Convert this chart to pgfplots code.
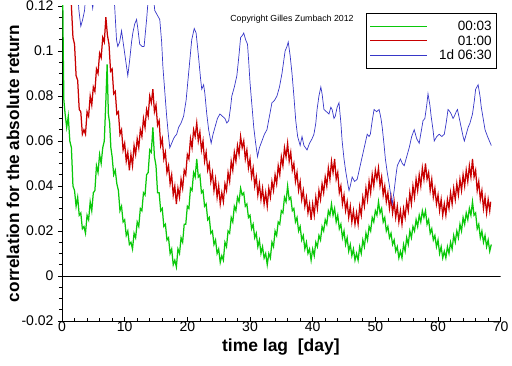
\documentclass[border=0pt]{standalone}
\usepackage{pgfplots}
\pgfplotsset{compat=1.18}
\usepackage{fontspec}
\setmainfont{Liberation Sans}
\definecolor{cgreen}{RGB}{10,200,10}
\definecolor{cred}{RGB}{200,0,0}
\definecolor{cblue}{RGB}{55,55,200}
\begin{document}
\begin{tikzpicture}
\useasboundingbox (-62pt,-45pt) rectangle (450pt,321pt);
\begin{axis}[
  at={(0pt,0pt)}, anchor=south west,
  scale only axis, width=438.7pt, height=315pt,
  xmin=0, xmax=70, ymin=-0.02, ymax=0.12,
  enlargelimits=false,
  axis x line*=bottom, axis y line*=left,
  axis line style={black, line width=0.9pt},
  xtick={0,10,20,30,40,50,60,70},
  xticklabels={0,10,20,30,40,50,60,70},
  ytick={-0.02,0,0.02,0.04,0.06,0.08,0.1,0.12},
  yticklabels={-0.02,0,0.02,0.04,0.06,0.08,0.1,0.12},
  minor x tick num=4, minor y tick num=3,
  x tick style={black, line width=0.7pt}, y tick style={black, line width=0.7pt},
  xtick align=inside, ytick align=outside,
  major tick length=4pt, minor tick length=3pt,
  tick label style={font=\fontsize{14}{16}\selectfont},
  xticklabel style={yshift=0pt, inner ysep=1pt},
  yticklabel style={xshift=-1pt},
  xlabel={time lag\ \ [day]}, ylabel={correlation for the absolute return},
  xlabel style={font=\fontsize{17.5}{20}\selectfont\bfseries, at={(axis description cs:0.499,-0.0835)}, anchor=center, inner sep=0pt},
  ylabel style={font=\fontsize{17.2}{20}\selectfont\bfseries, at={(axis description cs:-0.1117,0.5)}, anchor=center, inner sep=0pt},
  legend image code/.code={\draw[#1] (0pt,0pt) -- (57pt,0pt);},
  legend style={at={(rel axis cs:0.9916,0.978)}, anchor=north east,
    font=\fontsize{13.5}{14}\selectfont, draw=black, line width=0.9pt,
    inner xsep=3pt, inner ysep=7pt, row sep=2.5pt, cells={anchor=east},
    nodes={inner xsep=2pt, inner ysep=1pt, text height=9.5pt, text depth=0.5pt}},
  clip=true,
]
\addplot[draw=cgreen, line width=1.25pt] coordinates {
(0,0.16)(0.1,0.13)(0.2,0.10)(0.3,0.078)(0.5,0.072)(0.75,0.066)(1,0.071)(1.25,0.060)(1.5,0.057)(1.75,0.040)(2,0.038)(2.25,0.031)(2.5,0.035)(2.75,0.027)(3,0.028)(3.25,0.021)(3.5,0.022)(3.75,0.019)(4,0.027)(4.25,0.025)(4.5,0.033)(4.75,0.029)(5,0.037)(5.25,0.038)(5.5,0.049)(5.75,0.046)(6,0.054)(6.25,0.050)(6.5,0.057)(6.75,0.060)(7,0.078)(7.2,0.094)(7.4,0.072)(7.6,0.068)(7.8,0.057)(8,0.053)(8.25,0.045)(8.5,0.047)(8.75,0.041)(9,0.038)(9.25,0.029)(9.5,0.031)(9.75,0.024)(10,0.025)(10.25,0.018)(10.5,0.020)(10.75,0.014)(11,0.015)(11.25,0.012)(11.5,0.019)(11.75,0.017)(12,0.024)(12.25,0.022)(12.5,0.030)(12.75,0.029)(13,0.037)(13.25,0.036)(13.5,0.045)(13.75,0.046)(14,0.056)(14.25,0.055)(14.5,0.066)(14.75,0.053)(15,0.049)(15.25,0.037)(15.5,0.037)(15.75,0.029)(16,0.030)(16.25,0.022)(16.5,0.023)(16.75,0.016)(17,0.017)(17.25,0.010)(17.5,0.012)(17.75,0.005)(18,0.007)(18.25,0.004)(18.5,0.012)(18.75,0.010)(19,0.017)(19.25,0.015)(19.5,0.023)(19.75,0.023)(20,0.031)(20.25,0.030)(20.5,0.039)(20.75,0.038)(21,0.046)(21.25,0.044)(21.5,0.052)(21.75,0.044)(22,0.045)(22.25,0.037)(22.5,0.038)(22.75,0.031)(23,0.032)(23.25,0.025)(23.5,0.026)(23.75,0.019)(24,0.020)(24.25,0.014)(24.5,0.016)(24.75,0.010)(25,0.012)(25.25,0.006)(25.5,0.009)(25.75,0.007)(26,0.015)(26.25,0.013)(26.5,0.020)(26.75,0.019)(27,0.026)(27.25,0.024)(27.5,0.031)(27.75,0.029)(28,0.035)(28.25,0.033)(28.5,0.039)(28.75,0.036)(29,0.037)(29.25,0.031)(29.5,0.032)(29.75,0.026)(30,0.027)(30.25,0.021)(30.5,0.023)(30.75,0.017)(31,0.019)(31.25,0.013)(31.5,0.016)(31.75,0.010)(32,0.013)(32.25,0.008)(32.5,0.010)(32.75,0.005)(33,0.010)(33.25,0.008)(33.5,0.015)(33.75,0.013)(34,0.020)(34.25,0.018)(34.5,0.024)(34.75,0.023)(35,0.029)(35.25,0.028)(35.5,0.035)(35.75,0.033)(36,0.040)(36.25,0.034)(36.5,0.035)(36.75,0.029)(37,0.030)(37.25,0.024)(37.5,0.026)(37.75,0.020)(38,0.022)(38.25,0.016)(38.5,0.018)(38.75,0.012)(39,0.015)(39.25,0.010)(39.5,0.012)(39.75,0.007)(40,0.012)(40.25,0.009)(40.5,0.015)(40.75,0.013)(41,0.018)(41.25,0.016)(41.5,0.022)(41.75,0.020)(42,0.025)(42.25,0.023)(42.5,0.029)(42.75,0.027)(43,0.032)(43.25,0.027)(43.5,0.030)(43.75,0.024)(44,0.027)(44.25,0.021)(44.5,0.023)(44.75,0.017)(45,0.020)(45.25,0.014)(45.5,0.017)(45.75,0.011)(46,0.014)(46.25,0.009)(46.5,0.012)(46.75,0.007)(47,0.010)(47.25,0.007)(47.5,0.013)(47.75,0.010)(48,0.016)(48.25,0.013)(48.5,0.019)(48.75,0.016)(49,0.022)(49.25,0.020)(49.5,0.026)(49.75,0.024)(50,0.029)(50.25,0.027)(50.5,0.033)(50.75,0.028)(51,0.030)(51.25,0.024)(51.5,0.026)(51.75,0.020)(52,0.022)(52.25,0.017)(52.5,0.019)(52.75,0.014)(53,0.016)(53.25,0.011)(53.5,0.013)(53.75,0.008)(54,0.011)(54.25,0.008)(54.5,0.014)(54.75,0.011)(55,0.017)(55.25,0.014)(55.5,0.020)(55.75,0.017)(56,0.022)(56.25,0.020)(56.5,0.025)(56.75,0.022)(57,0.027)(57.25,0.024)(57.5,0.029)(57.75,0.026)(58,0.029)(58.25,0.023)(58.5,0.025)(58.75,0.019)(59,0.021)(59.25,0.016)(59.5,0.018)(59.75,0.013)(60,0.016)(60.25,0.010)(60.5,0.013)(60.75,0.008)(61,0.011)(61.25,0.008)(61.5,0.013)(61.75,0.010)(62,0.015)(62.25,0.012)(62.5,0.018)(62.75,0.015)(63,0.020)(63.25,0.017)(63.5,0.023)(63.75,0.020)(64,0.026)(64.25,0.023)(64.5,0.028)(64.75,0.025)(65,0.030)(65.25,0.027)(65.5,0.033)(65.75,0.027)(66,0.028)(66.25,0.021)(66.5,0.023)(66.75,0.017)(67,0.020)(67.25,0.015)(67.5,0.018)(67.75,0.013)(68,0.016)(68.25,0.011)(68.5,0.014)
};
\addlegendentry{00:03}
\addplot[draw=cred, line width=1.25pt] coordinates {
(1.25,0.135)(1.5,0.120)(1.75,0.106)(2,0.103)(2.25,0.089)(2.5,0.087)(2.75,0.074)(3,0.073)(3.25,0.063)(3.5,0.065)(3.75,0.063)(4,0.073)(4.25,0.071)(4.5,0.080)(4.75,0.076)(5,0.084)(5.25,0.082)(5.5,0.092)(5.75,0.090)(6,0.099)(6.25,0.097)(6.5,0.106)(6.75,0.104)(7,0.115)(7.25,0.107)(7.5,0.103)(7.75,0.091)(8,0.092)(8.25,0.081)(8.5,0.082)(8.75,0.072)(9,0.073)(9.25,0.063)(9.5,0.065)(9.75,0.056)(10,0.059)(10.25,0.051)(10.5,0.055)(10.75,0.047)(11,0.054)(11.25,0.049)(11.5,0.058)(11.75,0.054)(12,0.061)(12.25,0.057)(12.5,0.065)(12.75,0.062)(13,0.070)(13.25,0.066)(13.5,0.074)(13.75,0.071)(14,0.080)(14.25,0.077)(14.5,0.083)(14.75,0.073)(15,0.076)(15.25,0.067)(15.5,0.069)(15.75,0.058)(16,0.061)(16.25,0.052)(16.5,0.055)(16.75,0.046)(17,0.049)(17.25,0.041)(17.5,0.045)(17.75,0.036)(18,0.040)(18.25,0.032)(18.5,0.039)(18.75,0.035)(19,0.043)(19.25,0.039)(19.5,0.047)(19.75,0.045)(20,0.054)(20.25,0.052)(20.5,0.061)(20.75,0.057)(21,0.065)(21.25,0.062)(21.5,0.068)(21.75,0.060)(22,0.064)(22.25,0.056)(22.5,0.060)(22.75,0.051)(23,0.055)(23.25,0.047)(23.5,0.050)(23.75,0.042)(24,0.046)(24.25,0.038)(24.5,0.043)(24.75,0.035)(25,0.040)(25.25,0.032)(25.5,0.037)(25.75,0.033)(26,0.041)(26.25,0.038)(26.5,0.046)(26.75,0.042)(27,0.051)(27.25,0.047)(27.5,0.055)(27.75,0.051)(28,0.058)(28.25,0.054)(28.5,0.062)(28.75,0.057)(29,0.060)(29.25,0.052)(29.5,0.056)(29.75,0.048)(30,0.052)(30.25,0.044)(30.5,0.048)(30.75,0.040)(31,0.044)(31.25,0.036)(31.5,0.041)(31.75,0.034)(32,0.039)(32.25,0.032)(32.5,0.037)(32.75,0.031)(33,0.039)(33.25,0.035)(33.5,0.042)(33.75,0.038)(34,0.045)(34.25,0.041)(34.5,0.049)(34.75,0.045)(35,0.053)(35.25,0.049)(35.5,0.057)(35.75,0.053)(36,0.059)(36.25,0.051)(36.5,0.055)(36.75,0.047)(37,0.050)(37.25,0.042)(37.5,0.046)(37.75,0.038)(38,0.042)(38.25,0.034)(38.5,0.038)(38.75,0.031)(39,0.035)(39.25,0.028)(39.5,0.032)(39.75,0.025)(40,0.032)(40.25,0.027)(40.5,0.035)(40.75,0.030)(41,0.038)(41.25,0.034)(41.5,0.041)(41.75,0.037)(42,0.044)(42.25,0.040)(42.5,0.048)(42.75,0.043)(43,0.051)(43.25,0.046)(43.5,0.052)(43.75,0.043)(44,0.046)(44.25,0.037)(44.5,0.040)(44.75,0.032)(45,0.036)(45.25,0.029)(45.5,0.033)(45.75,0.026)(46,0.031)(46.25,0.024)(46.5,0.029)(46.75,0.023)(47,0.028)(47.25,0.023)(47.5,0.031)(47.75,0.027)(48,0.035)(48.25,0.031)(48.5,0.039)(48.75,0.034)(49,0.042)(49.25,0.037)(49.5,0.045)(49.75,0.040)(50,0.047)(50.25,0.043)(50.5,0.048)(50.75,0.040)(51,0.044)(51.25,0.036)(51.5,0.040)(51.75,0.033)(52,0.037)(52.25,0.030)(52.5,0.035)(52.75,0.028)(53,0.033)(53.25,0.026)(53.5,0.031)(53.75,0.024)(54,0.029)(54.25,0.023)(54.5,0.030)(54.75,0.026)(55,0.033)(55.25,0.029)(55.5,0.037)(55.75,0.032)(56,0.040)(56.25,0.035)(56.5,0.043)(56.75,0.038)(57,0.045)(57.25,0.040)(57.5,0.048)(57.75,0.043)(58,0.050)(58.25,0.043)(58.5,0.046)(58.75,0.038)(59,0.043)(59.25,0.035)(59.5,0.039)(59.75,0.032)(60,0.036)(60.25,0.029)(60.5,0.034)(60.75,0.027)(61,0.032)(61.25,0.027)(61.5,0.034)(61.75,0.030)(62,0.037)(62.25,0.032)(62.5,0.039)(62.75,0.034)(63,0.041)(63.25,0.036)(63.5,0.043)(63.75,0.038)(64,0.045)(64.25,0.040)(64.5,0.047)(64.75,0.042)(65,0.049)(65.25,0.044)(65.5,0.052)(65.75,0.044)(66,0.047)(66.25,0.038)(66.5,0.042)(66.75,0.034)(67,0.038)(67.25,0.030)(67.5,0.035)(67.75,0.028)(68,0.034)(68.25,0.029)(68.4,0.033)
};
\addlegendentry{01:00}
\addplot[draw=cblue, line width=0.7pt] coordinates {
(0,0.2)(2.4,0.13)(2.7,0.118)(3.0,0.111)(3.3,0.114)(3.6,0.118)(3.9,0.13)(4.6,0.125)(4.9,0.119)(5.2,0.126)(6,0.14)(8,0.13)(8.4,0.12)(8.7,0.105)(8.9,0.102)(9.2,0.104)(9.5,0.109)(9.7,0.105)(10.0,0.099)(10.3,0.093)(10.5,0.089)(10.8,0.096)(11.1,0.104)(11.3,0.108)(11.6,0.112)(11.9,0.114)(12.1,0.110)(12.4,0.103)(12.8,0.102)(13.1,0.102)(13.3,0.108)(13.5,0.114)(13.7,0.121)(14.2,0.13)(14.7,0.121)(14.8,0.118)(15.2,0.116)(15.6,0.114)(15.9,0.104)(16.1,0.093)(16.4,0.082)(16.7,0.071)(17.0,0.062)(17.2,0.057)(17.5,0.059)(17.8,0.061)(18.0,0.062)(18.3,0.063)(18.6,0.066)(19.0,0.068)(19.4,0.071)(19.8,0.078)(20.2,0.090)(20.5,0.099)(20.7,0.105)(21.1,0.110)(21.4,0.108)(21.8,0.097)(22.1,0.088)(22.3,0.083)(22.6,0.085)(22.8,0.081)(23.1,0.072)(23.4,0.065)(23.8,0.059)(24.1,0.063)(24.4,0.066)(24.8,0.070)(25.2,0.072)(25.6,0.071)(26.0,0.070)(26.3,0.068)(26.6,0.069)(26.9,0.075)(27.1,0.080)(27.5,0.084)(27.9,0.089)(28.2,0.097)(28.5,0.106)(28.8,0.107)(29.0,0.108)(29.3,0.105)(29.6,0.103)(29.8,0.095)(30.0,0.086)(30.3,0.076)(30.6,0.066)(30.9,0.059)(31.2,0.053)(31.5,0.057)(31.9,0.060)(32.3,0.063)(32.7,0.065)(33.1,0.071)(33.5,0.077)(33.9,0.078)(34.3,0.080)(34.7,0.084)(35.1,0.090)(35.4,0.096)(35.6,0.100)(35.9,0.102)(36.1,0.104)(36.4,0.098)(36.7,0.090)(37.0,0.080)(37.3,0.069)(37.6,0.062)(37.8,0.060)(38.0,0.058)(38.3,0.062)(38.6,0.058)(39.1,0.056)(39.5,0.059)(39.9,0.061)(40.2,0.063)(40.5,0.068)(40.7,0.074)(41.0,0.080)(41.3,0.084)(41.5,0.081)(41.8,0.074)(42.2,0.073)(42.6,0.072)(42.9,0.075)(43.1,0.074)(43.4,0.070)(43.6,0.071)(43.9,0.075)(44.2,0.077)(44.5,0.068)(44.7,0.060)(45.0,0.052)(45.3,0.046)(45.6,0.041)(45.8,0.038)(46.0,0.040)(46.3,0.044)(46.7,0.042)(47.1,0.043)(47.5,0.048)(47.9,0.053)(48.3,0.058)(48.7,0.063)(49.0,0.062)(49.2,0.063)(49.5,0.069)(49.8,0.074)(50.2,0.073)(50.6,0.074)(50.9,0.070)(51.1,0.066)(51.4,0.058)(51.6,0.052)(51.9,0.046)(52.2,0.041)(52.5,0.035)(52.7,0.032)(53.0,0.038)(53.3,0.045)(53.5,0.049)(54.0,0.052)(54.3,0.050)(54.6,0.049)(55.0,0.053)(55.4,0.057)(55.8,0.062)(56.2,0.065)(56.6,0.061)(57.0,0.059)(57.3,0.064)(57.6,0.069)(57.9,0.070)(58.2,0.076)(58.4,0.081)(58.7,0.076)(58.9,0.071)(59.2,0.065)(59.4,0.060)(59.8,0.062)(60.2,0.063)(60.6,0.062)(61.0,0.063)(61.3,0.068)(61.6,0.074)(61.9,0.073)(62.1,0.072)(62.4,0.070)(62.6,0.071)(62.9,0.073)(63.1,0.074)(63.4,0.070)(63.7,0.066)(64.0,0.062)(64.2,0.060)(64.5,0.063)(64.8,0.066)(65.1,0.068)(65.5,0.072)(65.8,0.078)(66.0,0.083)(66.4,0.085)(66.7,0.080)(66.9,0.075)(67.2,0.070)(67.5,0.065)(67.9,0.062)(68.2,0.060)(68.5,0.058)
};
\addlegendentry{\hspace{9pt}1d 06:30}
\addplot[black, line width=0.9pt, forget plot] coordinates {(0,0) (70,0)};
\node[font=\fontsize{8.8}{10}\selectfont, anchor=center] at (axis cs:36.7,0.1142) {Copyright Gilles Zumbach 2012};
\end{axis}
\end{tikzpicture}
\end{document}
